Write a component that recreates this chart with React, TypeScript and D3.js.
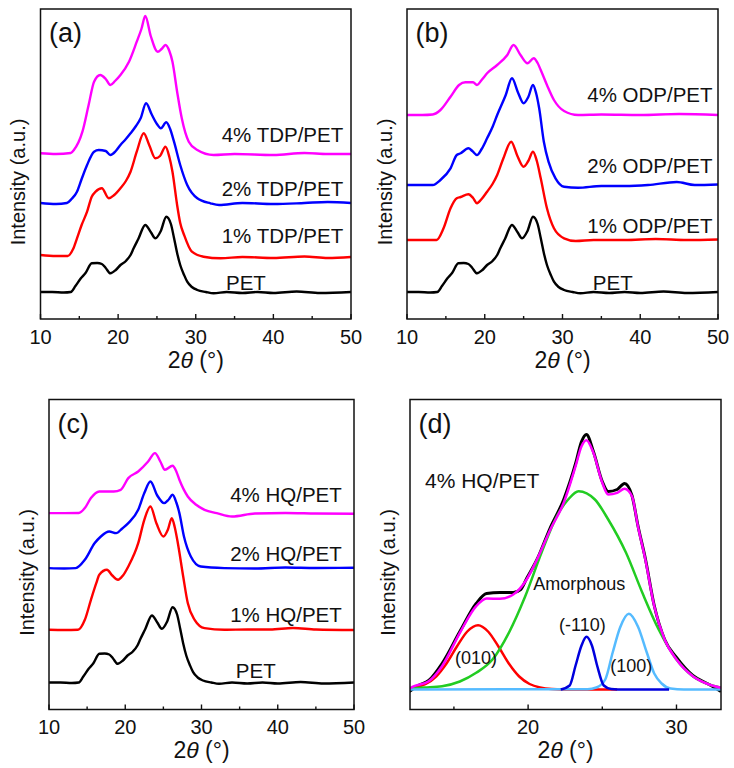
import React from "react";
import * as d3 from "d3";

type Pt = [number, number];

// 2theta (deg) vs intensity (a.u., stacked offsets included)
const pet: Pt[] = [[10,27],[11.5,27],[13,26.5],[13.9,27],[14.5,33],[15.2,40.7],[15.8,46],[16.6,55.7],[17.3,56],[17.9,55],[18.4,51],[19,45.7],[19.7,49],[20.3,54],[21,58],[21.6,64],[22,70.7],[22.6,80],[23.5,94],[24.2,87],[24.8,80.7],[25.5,88],[26.2,102.3],[26.8,95],[27.2,81],[27.6,66],[28,54],[28.5,44],[28.9,37.3],[29.5,32],[30.2,29],[31.3,27],[32.3,25.7],[34,27],[36,26],[38,27],[40,26],[43,27.5],[46,26],[50,27]];

const tdp1: Pt[] = [[10,64],[12,63],[13.5,63],[14.2,70],[14.7,80.7],[15.3,94],[16,107.3],[16.6,122.3],[17.1,127.3],[17.9,130.7],[18.8,120.7],[19.5,124],[20.3,130.7],[21,138],[21.6,147.3],[22.4,167.3],[23.3,185.7],[24,174],[24.8,160.7],[25.4,163],[26.1,172.3],[26.6,162],[27,147.3],[27.6,114],[28,96],[28.5,84],[29.5,67.3],[31,62.3],[33.2,60.7],[36,62],[40,61],[44,62.5],[47,61],[50,62]];
const tdp2: Pt[] = [[10,116],[12,115],[13.4,116],[14,120],[14.7,127.3],[15.3,140],[16,154],[16.9,167.3],[17.5,169],[18.4,168],[19,164],[19.7,168],[20.3,174],[21,180],[21.6,185.7],[22.3,193],[22.9,200.7],[23.6,215.7],[24.3,205],[25,195],[25.5,190.7],[26.2,196.7],[26.7,190],[27.2,177.3],[28,154],[28.9,134],[30.2,120.7],[31.9,115.7],[33,114],[36,116],[40,115],[44,116],[47,117],[50,116]];
const tdp4: Pt[] = [[10,165.7],[12,165],[13.9,166],[14.3,169],[15.4,187.3],[16.2,214],[16.9,237.3],[17.7,244],[18.4,240],[19,234],[19.6,238],[20.3,244],[21.4,257.3],[22.4,277.3],[23,290],[23.5,303],[24.2,283],[25.1,267.3],[25.6,270],[26.1,274],[26.6,268],[27,257.3],[27.6,227.3],[28.2,200.7],[29.1,177.3],[30.2,169],[32.3,164],[35,165],[40,164],[44,166],[47,165],[50,165]];

const odp1: Pt[] = [[10,79],[12,79],[13.8,79],[14.7,90.7],[15.6,110.7],[16.4,120.7],[16.9,122],[17.9,124.7],[18.5,121],[19,115.7],[19.6,120],[20.3,127.3],[21,135],[21.6,144],[22.4,160.7],[23.4,177.3],[24.2,163],[25,152.3],[25.6,158],[26.2,167.3],[26.7,158],[27.2,140.7],[28,110.7],[28.9,90.7],[30.2,80.7],[31.7,78],[34,79],[38,79],[42,80],[46,79],[50,79.5]];
const odp2: Pt[] = [[10,134],[12,134],[13.3,134],[14.3,139],[15.6,150.7],[16.4,164],[16.9,165.7],[17.9,170.7],[18.4,168],[19,164],[19.6,170],[20.3,180.7],[21,192],[21.6,204],[22.7,224],[23.5,240.7],[24.3,226],[25,215.7],[25.6,222],[26.2,234],[26.6,226],[27,210.7],[27.6,177.3],[28.2,157.3],[29.1,140.7],[30.2,132.3],[32,131.3],[35,133],[38,133],[41,134],[44.7,137],[47,134],[50,134.5]];
const odp4: Pt[] = [[10,204],[12,204],[13.3,204.5],[14.3,209],[15.6,222.3],[16.7,234],[17.5,236.7],[18.5,236.7],[19,234],[19.6,239],[20.3,245.7],[21.6,254],[22.9,264],[23.7,274],[24.6,264],[25.5,255.7],[26.3,260.7],[26.8,256],[27.2,249],[28,234],[28.9,219],[30.2,208],[32,204],[35,204.5],[40,204],[45,205],[50,204]];

const hq1: Pt[] = [[10,79.7],[12,79.5],[13.8,79.7],[14.7,89.7],[15.5,109.7],[16.2,126.3],[16.6,134.7],[17.6,139.7],[18.3,134],[19.05,129.7],[19.7,134],[20.4,143],[21.7,166.3],[22.5,189.7],[23.3,203],[24.1,186],[25,173],[25.6,180],[26.1,191.4],[26.5,182],[26.9,166.3],[27.6,133],[28.2,106.4],[29.1,89.7],[30.4,81.4],[33,79.7],[36,80],[39,80],[42,81.5],[45,80],[50,79.5]];
const hq2: Pt[] = [[10,141.4],[12,141],[13.5,141.4],[14.7,149.7],[16,166.4],[16.8,173],[17.9,178],[18.8,176.4],[19.6,181],[20.4,186.4],[21.7,199.7],[22.5,216.4],[23.3,228],[24.2,214],[25.1,206.4],[25.7,210],[26.2,214.7],[26.7,207],[27.1,196.4],[27.7,173],[28.6,153],[29.9,143],[33,141.4],[37,141],[41,142],[45,141.5],[50,141.7]];
const hq4: Pt[] = [[10,196.4],[12,196.4],[13.9,196.5],[14.7,201.4],[15.5,211.4],[16.6,218],[17.5,218],[18.5,218],[19.4,219.7],[20.4,231.4],[21.7,238],[23,248],[23.9,256.4],[24.6,248],[25.2,239.7],[26.2,243.7],[26.7,238],[27.1,229.7],[28.2,213],[29.3,204.7],[30.4,199.7],[32,196.4],[34,193],[37,196],[41,196.5],[45,196],[50,195.7]];

// peak fitting of 4% HQ/PET
const hqRaw: Pt[] = [[12,18],[12.6,24],[13.3,29],[14.2,46],[15.4,78],[16.5,106],[17.2,116],[18.1,117],[19,117],[19.5,120],[19.9,131],[20.6,150],[21.5,182],[22.4,210],[23.2,246],[23.6,268],[23.93,275],[24.4,258],[25,228],[25.4,218],[26,220],[26.5,226],[27,214],[27.4,184],[27.9,151],[28.5,104],[29.2,70],[30,52],[31.1,34],[32.2,25],[33,18]];
const fitSum: Pt[] = [[12,21],[12.2,22.7],[13.3,28.3],[14.2,43.3],[15.4,76.7],[16.5,103.3],[17.2,111],[18.1,110.7],[19,115],[19.9,130],[20.6,150],[21.5,180],[22.4,206.7],[23.2,243.3],[23.6,263.3],[23.93,269.3],[24.4,256.7],[25,226.7],[25.4,215],[26,216.7],[26.5,220.7],[27,213.3],[27.4,183.3],[27.9,150],[28.5,103.3],[29.2,70],[30,50],[31.1,33.3],[32.2,25],[33,21.7]];
const peak010: Pt[] = [[12,21],[12.5,22.5],[13.1,25.5],[13.8,33],[14.5,46],[15.2,63],[15.9,78],[16.63,84.3],[17.3,78],[18,63],[18.7,46],[19.4,33],[20.1,25.5],[20.8,22],[21.6,20.5],[23,20],[26,20]];
const amorphous: Pt[] = [[12,21],[13,22],[14.2,23.3],[15.4,28],[16.5,36.7],[17.6,50],[18.7,76.7],[19.8,113],[20.9,156.7],[22,195],[22.7,210],[23.4,218.3],[24.5,210],[25.4,190],[26.6,156.7],[27.7,116.7],[28.8,80],[30,50],[31.1,33.3],[32.2,25],[33,21.7]];
const peak110: Pt[] = [[22.2,20],[22.8,24],[23.2,44],[23.6,64],[23.93,72.7],[24.3,64],[24.65,44],[25.1,24],[25.6,20.5],[26.5,20],[29.5,20]];
const peak100: Pt[] = [[12,20],[24,20.3],[24.6,22],[25.2,30],[25.7,57],[26.2,82],[26.79,95.7],[27.4,83],[28,57],[28.5,36],[29,26],[29.6,21],[30.5,20],[33,20]];

const ticks10 = [10, 20, 30, 40, 50];
const minor10 = [15, 25, 35, 45];
const ticksD = [20, 30];
const minorD = [15, 25];

const FONT = "'Liberation Sans', Arial, Helvetica, sans-serif";
const Y_MAX = 310;

interface ISeries { data: Pt[]; color: string; width?: number }
interface ILabel { text: string; x: number; y: number; anchor?: "start" | "end" | "middle"; size?: number }
interface IPanel {
  tag: string;
  left: number; top: number; right: number; bottom: number;
  xDomain: [number, number];
  major: number[];
  minor: number[];
  series: ISeries[];
  labels: ILabel[];
}

const panels: IPanel[] = [
  {
    tag: "(a)", left: 40.5, top: 9, right: 351, bottom: 319, xDomain: [10, 50],
    major: ticks10, minor: minor10,
    series: [
      { data: pet, color: "#000000" },
      { data: tdp1, color: "#ff0000" },
      { data: tdp2, color: "#0000ff" },
      { data: tdp4, color: "#ff00ff" },
    ],
    labels: [
      { text: "4% TDP/PET", x: 49, y: 177, anchor: "end" },
      { text: "2% TDP/PET", x: 49, y: 123, anchor: "end" },
      { text: "1% TDP/PET", x: 49, y: 76, anchor: "end" },
      { text: "PET", x: 33.9, y: 29 },
    ],
  },
  {
    tag: "(b)", left: 407, top: 9, right: 718, bottom: 319, xDomain: [10, 50],
    major: ticks10, minor: minor10,
    series: [
      { data: pet, color: "#000000" },
      { data: odp1, color: "#ff0000" },
      { data: odp2, color: "#0000ff" },
      { data: odp4, color: "#ff00ff" },
    ],
    labels: [
      { text: "4% ODP/PET", x: 49.3, y: 217, anchor: "end" },
      { text: "2% ODP/PET", x: 49.3, y: 146, anchor: "end" },
      { text: "1% ODP/PET", x: 49.3, y: 86, anchor: "end" },
      { text: "PET", x: 33.9, y: 29 },
    ],
  },
  {
    tag: "(c)", left: 49, top: 399.5, right: 354, bottom: 709.5, xDomain: [10, 50],
    major: ticks10, minor: minor10,
    series: [
      { data: pet, color: "#000000" },
      { data: hq1, color: "#ff0000" },
      { data: hq2, color: "#0000ff" },
      { data: hq4, color: "#ff00ff" },
    ],
    labels: [
      { text: "4% HQ/PET", x: 48.4, y: 208, anchor: "end" },
      { text: "2% HQ/PET", x: 48.4, y: 149, anchor: "end" },
      { text: "1% HQ/PET", x: 48.4, y: 88, anchor: "end" },
      { text: "PET", x: 34.5, y: 32 },
    ],
  },
  {
    tag: "(d)", left: 410, top: 399.5, right: 721, bottom: 709.5, xDomain: [12.04, 33],
    major: ticksD, minor: minorD,
    series: [
      { data: hqRaw, color: "#000000", width: 3 },
      { data: peak010, color: "#ff0000", width: 2.5 },
      { data: amorphous, color: "#22cc22", width: 2.5 },
      { data: peak100, color: "#55bbff", width: 2.5 },
      { data: peak110, color: "#0000dd", width: 2.5 },
      { data: fitSum, color: "#ff00ff", width: 2.5 },
    ],
    labels: [
      { text: "4% HQ/PET", x: 13.05, y: 222, size: 21 },
      { text: "Amorphous", x: 20.34, y: 120, size: 18 },
      { text: "(-110)", x: 22.09, y: 79, size: 18 },
      { text: "(010)", x: 15.08, y: 46, size: 18 },
      { text: "(100)", x: 25.53, y: 38, size: 18 },
    ],
  },
];

const Panel = ({ p, idx }: { p: IPanel; idx: number }) => {
  const x = d3.scaleLinear().domain(p.xDomain).range([p.left, p.right]);
  const y = d3.scaleLinear().domain([0, Y_MAX]).range([p.bottom, p.top]);
  const line = d3.line<Pt>().x((d) => x(d[0])).y((d) => y(d[1])).curve(d3.curveMonotoneX);
  const clipId = `clip-${idx}`;
  const midX = (p.left + p.right) / 2;
  const midY = (p.top + p.bottom) / 2 + 18;

  return (
    <g fontFamily={FONT}>
      <defs>
        <clipPath id={clipId}>
          <rect x={p.left} y={p.top} width={p.right - p.left} height={p.bottom - p.top} />
        </clipPath>
      </defs>
      <g clipPath={`url(#${clipId})`}>
        {p.series.map((s, i) => (
          <path key={i} d={line(s.data) || ""} fill="none" stroke={s.color}
            strokeWidth={s.width ?? 2.4} strokeLinejoin="round" />
        ))}
      </g>
      <rect x={p.left} y={p.top} width={p.right - p.left} height={p.bottom - p.top}
        fill="none" stroke="#111" strokeWidth={1.5} />
      {p.major.map((t) => (
        <g key={`M${t}`}>
          <line x1={x(t)} x2={x(t)} y1={p.bottom} y2={p.bottom - 5} stroke="#111" strokeWidth={1.4} />
          <text x={x(t)} y={p.bottom + 24.5} textAnchor="middle" fontSize={20} fill="#111">{t}</text>
        </g>
      ))}
      {p.minor.map((t) => (
        <line key={`m${t}`} x1={x(t)} x2={x(t)} y1={p.bottom} y2={p.bottom - 3} stroke="#111" strokeWidth={1.4} />
      ))}
      <text x={midX} y={p.bottom + 48.5} textAnchor="middle" fontSize={23} fill="#111">
        <tspan>2</tspan><tspan fontStyle="italic">θ</tspan><tspan> (°)</tspan>
      </text>
      <text transform={`translate(${p.left - 22.5},${midY}) rotate(-90)`} dy="0.35em"
        textAnchor="middle" fontSize={20} fill="#111">Intensity (a.u.)</text>
      <text x={p.left + 8.5} y={p.top + 33} fontSize={27} fill="#111">{p.tag}</text>
      {p.labels.map((l, i) => (
        <text key={i} x={x(l.x)} y={y(l.y)} textAnchor={l.anchor ?? "start"}
          fontSize={l.size ?? 20.5} fill="#111">{l.text}</text>
      ))}
    </g>
  );
};

const App = () => {
  return (
    <svg width={734} height={768} style={{ position: "absolute", left: 0, top: 0, background: "#fff" }}>
      <rect width={734} height={768} fill="#fff" />
      {panels.map((p, i) => (
        <Panel key={p.tag} p={p} idx={i} />
      ))}
    </svg>
  );
};

export default App;
